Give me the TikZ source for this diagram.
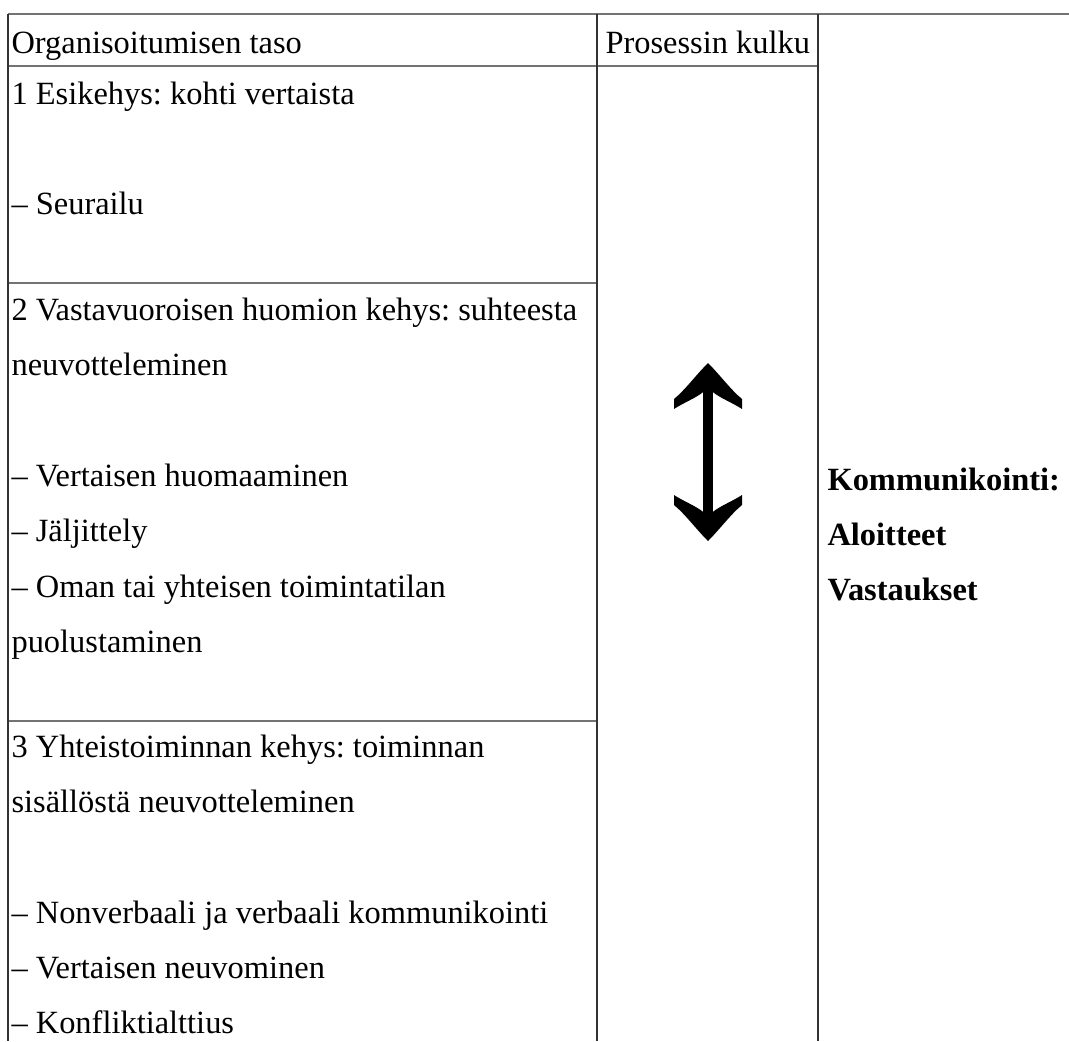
\documentclass[tikz,border=0pt]{standalone}
\usepackage{fontspec}
\setmainfont{Liberation Serif}
\usetikzlibrary{positioning}
\frenchspacing

\tikzset{
	txt/.style={anchor=base west, inner sep=0pt, font=\fontsize{12}{14}\selectfont},
	bold/.style={txt, font=\fontsize{12}{14}\selectfont\bfseries},
	hrule/.style={black!55, line width=0.45pt},
	vrule/.style={black!80, line width=0.45pt}
}

\begin{document}
\begin{tikzpicture}[x=0.37pt, y=-0.37pt]
		\useasboundingbox (0,0) rectangle (1069,1041);
		
		% taulukon viivat
		\draw[hrule] (8,14) -- (1069,14);
		\draw[hrule] (8,66) -- (818,66);
		\draw[hrule] (8,283) -- (597,283);
		\draw[hrule] (8,721) -- (597,721);
		\foreach \x in {8,597,818} {
			\draw[vrule] (\x,14) -- (\x,1041);
		}
		
		% otsikkorivi
		\node[txt] (taso) at (11,53) {Organisoitumisen taso};
		\node[txt] (kulku) at (605,53) {Prosessin kulku};
		
		% taso 1
		\node[txt] (t1) at (11,104) {1 Esikehys: kohti vertaista};
		\node[txt] (t1a) at (11,214) {-- Seurailu};
		
		% taso 2
		\node[txt] (t2) at (11,320) {2 Vastavuoroisen huomion kehys: suhteesta};
		\node[txt] (t2b) at (11,375) {neuvotteleminen};
		\node[txt] (t2c) at (11,486) {-- Vertaisen huomaaminen};
		\node[txt] (t2d) at (11,541) {-- Jäljittely};
		\node[txt] (t2e) at (11,597) {-- Oman tai yhteisen toimintatilan};
		\node[txt] (t2f) at (11,652) {puolustaminen};
		
		% taso 3
		\node[txt] (t3) at (11,757) {3 Yhteistoiminnan kehys: toiminnan};
		\node[txt] (t3b) at (11,812) {sisällöstä neuvotteleminen};
		\node[txt] (t3c) at (11,923) {-- Nonverbaali ja verbaali kommunikointi};
		\node[txt] (t3d) at (11,978) {-- Vertaisen neuvominen};
		\node[txt] (t3e) at (11,1033) {-- Konfliktialttius};
		
		% kommunikointi
		\node[bold] (komm) at (827,490) {Kommunikointi:};
		\node[bold] (aloit) at (827,545) {Aloitteet};
		\node[bold] (vast) at (827,600) {Vastaukset};
		
		% kaksisuuntainen nuoli
		\begin{scope}[shift={(708,452)}]
			\fill (0,-89) .. controls (12,-77) and (23,-62) .. (34,-53) -- (34,-43)
				.. controls (25,-49) and (12,-54) .. (4.8,-60) -- (4.8,60)
				.. controls (12,54) and (25,49) .. (34,43) -- (34,53)
				.. controls (23,62) and (12,77) .. (0,89)
				.. controls (-12,77) and (-23,62) .. (-34,53) -- (-34,43)
				.. controls (-25,49) and (-12,54) .. (-4.8,60) -- (-4.8,-60)
				.. controls (-12,-54) and (-25,-49) .. (-34,-43) -- (-34,-53)
				.. controls (-23,-62) and (-12,-77) .. (0,-89) -- cycle;
		\end{scope}
	\end{tikzpicture}
\end{document}
